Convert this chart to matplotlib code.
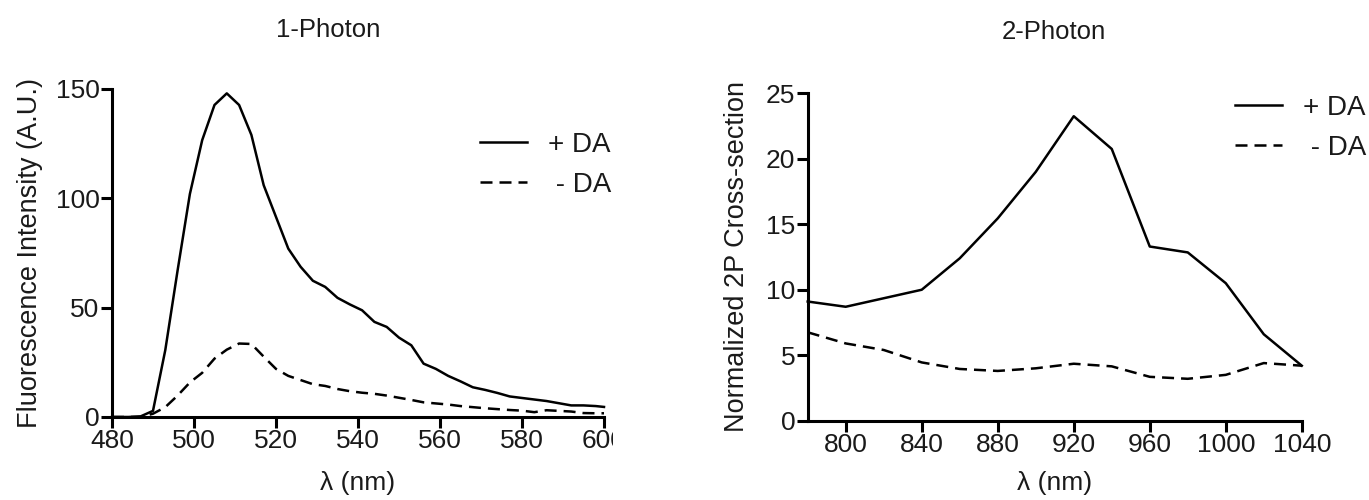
import matplotlib
matplotlib.use("Agg")
import matplotlib.pyplot as plt
from matplotlib.transforms import Bbox, TransformedBbox

plt.rcParams['font.family'] = ['Liberation Sans', 'DejaVu Sans']

# 1-photon emission spectrum
wl_1p = [480, 484, 487, 490, 493, 496, 499, 502, 505, 508, 511, 514, 517, 520,
         523, 526, 529, 532, 535, 538, 541, 544, 547, 550, 553, 556, 559, 562,
         565, 568, 571, 574, 577, 580, 583, 586, 589, 592, 595, 598, 600]
plus_da_1p = [0, 0, 0.3, 2.8, 30.6, 67, 102, 126.6, 142.7, 148, 142.7, 129, 106, 91.5,
              77, 68.7, 62.3, 59.5, 54.5, 51.5, 48.8, 43.5, 41.2, 36.3, 32.8, 24.4, 22, 18.8,
              16.3, 13.6, 12.4, 11, 9.4, 8.7, 8, 7.3, 6.3, 5.3, 5.3, 5, 4.6]
minus_da_1p = [0, 0, 0, 1.5, 4.5, 9.8, 15.8, 20.2, 26.7, 30.8, 33.6, 33.4, 27.6, 22,
               18.8, 16.9, 15, 14.2, 12.8, 11.8, 11.1, 10.6, 9.8, 8.8, 7.8, 6.7, 6.2, 5.7,
               5.0, 4.5, 4.0, 3.6, 3.2, 2.9, 2.2, 3.1, 2.8, 2.5, 1.8, 1.7, 1.7]

# 2-photon cross-section
wl_2p = [780, 800, 820, 840, 860, 880, 900, 920, 940, 960, 980, 1000, 1020, 1040]
plus_da_2p = [9.1, 8.7, 9.35, 10.0, 12.4, 15.45, 19.0, 23.25, 20.75, 13.3, 12.85, 10.5, 6.6, 4.2]
minus_da_2p = [6.75, 5.9, 5.4, 4.45, 3.95, 3.8, 4.0, 4.35, 4.15, 3.35, 3.2, 3.5, 4.4, 4.2]

txt = '#1a1a1a'
lw = 1.8
dash = (0, (4.8, 2.8))

fig = plt.figure(figsize=(13.69, 5), dpi=100)
ax1 = fig.add_axes([0.0818, 0.166, 0.3594, 0.656])
ax2 = fig.add_axes([0.590, 0.1586, 0.3609, 0.6548])

ax1.plot(wl_1p, plus_da_1p, color='black', lw=lw, label='+ DA', clip_on=False)
ax1.plot(wl_1p, minus_da_1p, color='black', lw=lw, ls=dash, label=' - DA', clip_on=False)
ax1.set_xlim(480, 600)
ax1.set_ylim(0, 150)
ax1.set_xticks([480, 500, 520, 540, 560, 580, 600])
ax1.set_yticks([0, 50, 100, 150])
ax1.set_xlabel('λ (nm)', fontsize=19, color=txt)
ax1.set_ylabel('Fluorescence Intensity (A.U.)', fontsize=19.5, color=txt)
ax1.xaxis.set_label_coords(0.5, -0.165)
ax1.yaxis.set_label_coords(-0.14, 0.5)

ax2.plot(wl_2p, plus_da_2p, color='black', lw=lw, label='+ DA', clip_on=False)
ax2.plot(wl_2p, minus_da_2p, color='black', lw=lw, ls=dash, label=' - DA', clip_on=False)
ax2.set_xlim(780, 1040)
ax2.set_ylim(0, 25)
ax2.set_xticks([800, 840, 880, 920, 960, 1000, 1040])
ax2.set_yticks([0, 5, 10, 15, 20, 25])
ax2.set_xlabel('λ (nm)', fontsize=19, color=txt)
ax2.set_ylabel('Normalized 2P Cross-section', fontsize=19.5, color=txt)
ax2.xaxis.set_label_coords(0.5, -0.155)
ax2.yaxis.set_label_coords(-0.117, 0.5)

for ax in (ax1, ax2):
    for s in ('top', 'right'):
        ax.spines[s].set_visible(False)
    for s in ('left', 'bottom'):
        ax.spines[s].set_linewidth(2.2)
    ax.tick_params(length=8, width=2.2, labelsize=19, pad=1, labelcolor=txt)

ax1.legend(loc='upper left', bbox_to_anchor=(0.748, 0.87), frameon=False, fontsize=20,
           handlelength=1.7, handletextpad=0.75, labelspacing=0.5, borderpad=0,
           borderaxespad=0, labelcolor=txt)
ax2.legend(loc='upper left', bbox_to_anchor=(0.865, 0.995), frameon=False, fontsize=20,
           handlelength=1.7, handletextpad=0.75, labelspacing=0.5, borderpad=0,
           borderaxespad=0, labelcolor=txt)

fig.text(328 / 1369, 1 - 30 / 500, '1-Photon', ha='center', va='center', fontsize=18.5, color=txt)
fig.text(1054 / 1369, 1 - 32 / 500, '2-Photon', ha='center', va='center', fontsize=18.5, color=txt)

# the reference cuts the last tick label of the left panel
clip = TransformedBbox(Bbox([[0, 0], [613 / 1369, 1]]), fig.transFigure)
for lbl in ax1.get_xticklabels():
    lbl.set_clip_box(clip)
    lbl.set_clip_on(True)

fig.savefig('out.png', dpi=100)
